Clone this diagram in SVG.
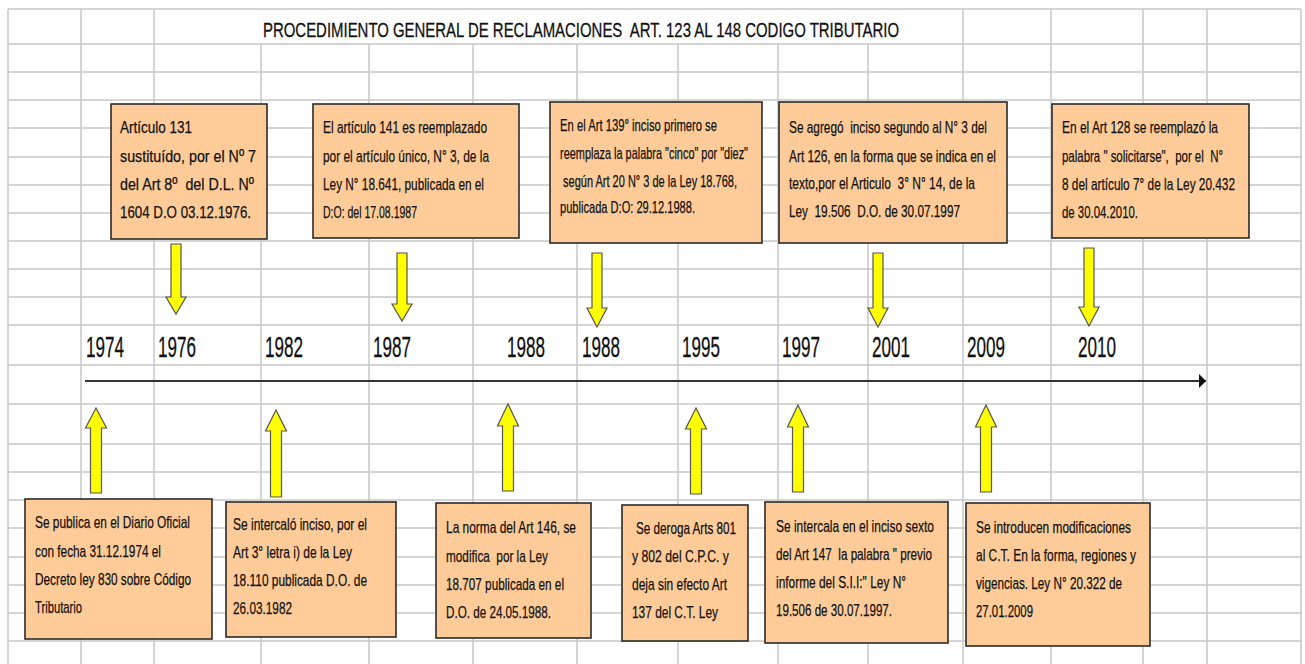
<svg xmlns="http://www.w3.org/2000/svg" width="1305" height="664" viewBox="0 0 1305 664" xml:space="preserve">
<style>
.grid{stroke:#c8c8c8;stroke-width:1.5;fill:none}
.box{fill:#FFCC99;stroke:#2a2a2a;stroke-width:1.6}
.t{font-family:"Liberation Sans",Arial,sans-serif;font-size:17px;fill:#111;stroke:#111;stroke-width:0.25;white-space:pre}
.yr{font-family:"Liberation Sans",Arial,sans-serif;font-size:29px;fill:#111;stroke:#111;stroke-width:0.3}
.title{font-family:"Liberation Sans",Arial,sans-serif;font-size:21px;fill:#111;stroke:#111;stroke-width:0.3;white-space:pre}
.arr{fill:#FFFF00;stroke:#555;stroke-width:1.2;stroke-linejoin:miter}
.axis{stroke:#333;stroke-width:1.8;fill:none}
</style>
<defs>
<marker id="ah" markerWidth="8" markerHeight="14" refX="7" refY="7" orient="auto" markerUnits="userSpaceOnUse">
<path d="M0,0 L7,7 L0,14 Z" fill="#111"/>
</marker>
</defs>
<rect x="0" y="0" width="1305" height="664" fill="#fff"/>
<g id="grid">
<path class="grid" d="M8,9H1301 M8,44H1301 M8,72H1301 M8,100H1301 M8,128H1301 M8,157H1301 M8,185H1301 M8,213H1301 M8,241H1301 M8,269H1301 M8,297H1301 M8,325H1301 M8,365H1301 M8,404H1301 M8,444H1301 M8,472H1301 M8,500H1301 M8,528H1301 M8,557H1301 M8,585H1301 M8,613H1301 M8,641H1301"/>
<path class="grid" d="M8,9V664 M81,9V664 M154,9V664 M261,44V664 M369,44V664 M473,44V664 M577,44V664 M678,44V664 M778,44V664 M868,44V664 M963,9V664 M1051,9V664 M1143,9V664 M1207,9V664 M1301,9V664"/>
</g>
<g id="title">
<text class="title" x="263" y="37" textLength="636" lengthAdjust="spacingAndGlyphs">PROCEDIMIENTO GENERAL DE RECLAMACIONES  ART. 123 AL 148 CODIGO TRIBUTARIO</text>
</g>
<g id="connectors">
<line class="axis" x1="85" y1="381" x2="1206" y2="381" marker-end="url(#ah)"/>
<polygon class="arr" points="171,244 181,244 181,297 186,297 176,314 166,297 171,297"/>
<polygon class="arr" points="397,253 407,253 407,304 412,304 402,321 392,304 397,304"/>
<polygon class="arr" points="592,253 602,253 602,308 607,308 597,327 587,308 592,308"/>
<polygon class="arr" points="873,253 883,253 883,308 888,308 878,327 868,308 873,308"/>
<polygon class="arr" points="1084,248 1094,248 1094,307 1099,307 1089,326 1079,307 1084,307"/>
<polygon class="arr" points="96,408 106.5,428 101.5,428 101.5,493 90.5,493 90.5,428 85.5,428"/>
<polygon class="arr" points="276,410 286.5,431 281.5,431 281.5,497 270.5,497 270.5,431 265.5,431"/>
<polygon class="arr" points="508,404 518.5,426 513.5,426 513.5,491 502.5,491 502.5,426 497.5,426"/>
<polygon class="arr" points="696,408 706.5,429 701.5,429 701.5,494 690.5,494 690.5,429 685.5,429"/>
<polygon class="arr" points="798,405 808.5,427 803.5,427 803.5,492 792.5,492 792.5,427 787.5,427"/>
<polygon class="arr" points="986,405 996.5,427 991.5,427 991.5,492 980.5,492 980.5,427 975.5,427"/>
</g>
<g id="years">
<text class="yr" x="86" y="357" textLength="38" lengthAdjust="spacingAndGlyphs">1974</text>
<text class="yr" x="158" y="357" textLength="38" lengthAdjust="spacingAndGlyphs">1976</text>
<text class="yr" x="265" y="357" textLength="38" lengthAdjust="spacingAndGlyphs">1982</text>
<text class="yr" x="373" y="357" textLength="38" lengthAdjust="spacingAndGlyphs">1987</text>
<text class="yr" x="507" y="357" textLength="38" lengthAdjust="spacingAndGlyphs">1988</text>
<text class="yr" x="582" y="357" textLength="38" lengthAdjust="spacingAndGlyphs">1988</text>
<text class="yr" x="682" y="357" textLength="38" lengthAdjust="spacingAndGlyphs">1995</text>
<text class="yr" x="782" y="357" textLength="38" lengthAdjust="spacingAndGlyphs">1997</text>
<text class="yr" x="872" y="357" textLength="38" lengthAdjust="spacingAndGlyphs">2001</text>
<text class="yr" x="967" y="357" textLength="38" lengthAdjust="spacingAndGlyphs">2009</text>
<text class="yr" x="1078" y="357" textLength="38" lengthAdjust="spacingAndGlyphs">2010</text>
</g>
<g id="box1976">
<rect class="box" x="111" y="104" width="156" height="135"/>
<text class="t" x="120" y="133" textLength="72" lengthAdjust="spacingAndGlyphs">Artículo 131</text>
<text class="t" x="120" y="162" textLength="136" lengthAdjust="spacingAndGlyphs">sustituído, por el Nº 7</text>
<text class="t" x="120" y="190" textLength="134" lengthAdjust="spacingAndGlyphs">del Art 8º  del D.L. Nº</text>
<text class="t" x="120" y="218" textLength="131" lengthAdjust="spacingAndGlyphs">1604 D.O 03.12.1976.</text>
</g>
<g id="box1987">
<rect class="box" x="313" y="104" width="206" height="134"/>
<text class="t" x="323" y="133" textLength="164" lengthAdjust="spacingAndGlyphs">El artículo 141 es reemplazado</text>
<text class="t" x="323" y="162" textLength="166" lengthAdjust="spacingAndGlyphs">por el artículo único, N° 3, de la</text>
<text class="t" x="323" y="190" textLength="161" lengthAdjust="spacingAndGlyphs">Ley N° 18.641, publicada en el</text>
<text class="t" x="323" y="218" textLength="94" lengthAdjust="spacingAndGlyphs">D:O: del 17.08.1987</text>
</g>
<g id="box1988top">
<rect class="box" x="550" y="102" width="212" height="141"/>
<text class="t" x="560" y="131" textLength="157" lengthAdjust="spacingAndGlyphs">En el Art 139° inciso primero se</text>
<text class="t" x="560" y="159" textLength="188" lengthAdjust="spacingAndGlyphs">reemplaza la palabra "cinco" por "diez"</text>
<text class="t" x="563" y="187" textLength="174" lengthAdjust="spacingAndGlyphs">según Art 20 N° 3 de la Ley 18.768,</text>
<text class="t" x="560" y="213" textLength="135" lengthAdjust="spacingAndGlyphs">publicada D:O: 29.12.1988.</text>
</g>
<g id="box2001">
<rect class="box" x="779" y="102" width="228" height="141"/>
<text class="t" x="789" y="133" textLength="198" lengthAdjust="spacingAndGlyphs">Se agregó  inciso segundo al N° 3 del</text>
<text class="t" x="789" y="162" textLength="207" lengthAdjust="spacingAndGlyphs">Art 126, en la forma que se indica en el</text>
<text class="t" x="789" y="189" textLength="186" lengthAdjust="spacingAndGlyphs">texto,por el Articulo  3° N° 14, de la</text>
<text class="t" x="789" y="217" textLength="171" lengthAdjust="spacingAndGlyphs">Ley  19.506  D.O. de 30.07.1997</text>
</g>
<g id="box2010">
<rect class="box" x="1052" y="104" width="197" height="134"/>
<text class="t" x="1062" y="133" textLength="156" lengthAdjust="spacingAndGlyphs">En el Art 128 se reemplazó la</text>
<text class="t" x="1062" y="162" textLength="161" lengthAdjust="spacingAndGlyphs">palabra " solicitarse",  por el  N°</text>
<text class="t" x="1062" y="190" textLength="173" lengthAdjust="spacingAndGlyphs">8 del artículo 7° de la Ley 20.432</text>
<text class="t" x="1062" y="218" textLength="76" lengthAdjust="spacingAndGlyphs">de 30.04.2010.</text>
</g>
<g id="box1974">
<rect class="box" x="25" y="499" width="187" height="140"/>
<text class="t" x="35" y="528" textLength="155" lengthAdjust="spacingAndGlyphs">Se publica en el Diario Oficial</text>
<text class="t" x="35" y="557" textLength="126" lengthAdjust="spacingAndGlyphs">con fecha 31.12.1974 el</text>
<text class="t" x="35" y="585" textLength="156" lengthAdjust="spacingAndGlyphs">Decreto ley 830 sobre Código</text>
<text class="t" x="35" y="613" textLength="47" lengthAdjust="spacingAndGlyphs">Tributario</text>
</g>
<g id="box1982">
<rect class="box" x="226" y="502" width="170" height="135"/>
<text class="t" x="233" y="530" textLength="134" lengthAdjust="spacingAndGlyphs">Se intercaló inciso, por el</text>
<text class="t" x="233" y="558" textLength="119" lengthAdjust="spacingAndGlyphs">Art 3° letra i) de la Ley</text>
<text class="t" x="233" y="586" textLength="134" lengthAdjust="spacingAndGlyphs">18.110 publicada D.O. de</text>
<text class="t" x="233" y="614" textLength="59" lengthAdjust="spacingAndGlyphs">26.03.1982</text>
</g>
<g id="box1988bottom">
<rect class="box" x="436" y="503" width="155" height="135"/>
<text class="t" x="446" y="533" textLength="130" lengthAdjust="spacingAndGlyphs">La norma del Art 146, se</text>
<text class="t" x="446" y="562" textLength="102" lengthAdjust="spacingAndGlyphs">modifica  por la Ley</text>
<text class="t" x="446" y="590" textLength="118" lengthAdjust="spacingAndGlyphs">18.707 publicada en el</text>
<text class="t" x="446" y="618" textLength="105" lengthAdjust="spacingAndGlyphs">D.O. de 24.05.1988.</text>
</g>
<g id="box1995">
<rect class="box" x="622" y="505" width="126" height="136"/>
<text class="t" x="636" y="534" textLength="100" lengthAdjust="spacingAndGlyphs">Se deroga Arts 801</text>
<text class="t" x="632" y="562" textLength="97" lengthAdjust="spacingAndGlyphs">y 802 del C.P.C. y</text>
<text class="t" x="632" y="590" textLength="95" lengthAdjust="spacingAndGlyphs">deja sin efecto Art</text>
<text class="t" x="632" y="618" textLength="86" lengthAdjust="spacingAndGlyphs">137 del C.T. Ley</text>
</g>
<g id="box1997">
<rect class="box" x="765" y="502" width="183" height="141"/>
<text class="t" x="776" y="532" textLength="158" lengthAdjust="spacingAndGlyphs">Se intercala en el inciso sexto</text>
<text class="t" x="776" y="560" textLength="156" lengthAdjust="spacingAndGlyphs">del Art 147  la palabra " previo</text>
<text class="t" x="776" y="588" textLength="130" lengthAdjust="spacingAndGlyphs">informe del S.I.I:" Ley N°</text>
<text class="t" x="776" y="616" textLength="116" lengthAdjust="spacingAndGlyphs">19.506 de 30.07.1997.</text>
</g>
<g id="box2009">
<rect class="box" x="966" y="503" width="184" height="143"/>
<text class="t" x="976" y="533" textLength="155" lengthAdjust="spacingAndGlyphs">Se introducen modificaciones</text>
<text class="t" x="976" y="561" textLength="160" lengthAdjust="spacingAndGlyphs">al C.T. En la forma, regiones y</text>
<text class="t" x="976" y="589" textLength="146" lengthAdjust="spacingAndGlyphs">vigencias. Ley N° 20.322 de</text>
<text class="t" x="976" y="617" textLength="57" lengthAdjust="spacingAndGlyphs">27.01.2009</text>
</g>
</svg>
